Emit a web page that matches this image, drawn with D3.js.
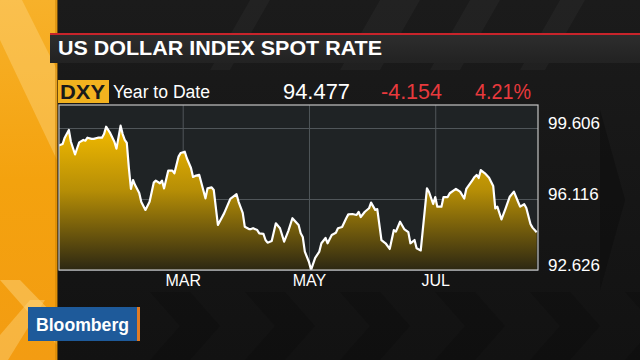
<!DOCTYPE html>
<html><head><meta charset="utf-8">
<script src="https://cdn.jsdelivr.net/npm/d3@7"></script>
<style>html,body{margin:0;padding:0;background:#151515;overflow:hidden}svg{display:block}</style>
</head><body><svg id="c" width="640" height="360"></svg>
<script>
// ---- data ----
const dateLabels = ["2016-01-01","2016-01-03","2016-01-04","2016-01-06","2016-01-07","2016-01-09","2016-01-10","2016-01-11","2016-01-13","2016-01-14","2016-01-15","2016-01-17","2016-01-18","2016-01-20","2016-01-22","2016-01-23","2016-01-24","2016-01-25","2016-01-26","2016-01-28","2016-01-29","2016-01-31",
"2016-02-01","2016-02-02","2016-02-03","2016-02-04","2016-02-05","2016-02-06","2016-02-07","2016-02-09","2016-02-10","2016-02-12","2016-02-14","2016-02-16","2016-02-17","2016-02-19","2016-02-20","2016-02-21","2016-02-23","2016-02-25","2016-02-26","2016-02-28","2016-02-29",
"2016-03-02","2016-03-03","2016-03-05","2016-03-06","2016-03-07","2016-03-09","2016-03-12","2016-03-13","2016-03-15","2016-03-16","2016-03-18","2016-03-21","2016-03-24","2016-03-27","2016-03-28","2016-03-30","2016-03-31",
"2016-04-02","2016-04-03","2016-04-04","2016-04-06","2016-04-07","2016-04-09","2016-04-10","2016-04-11","2016-04-13","2016-04-15","2016-04-17","2016-04-19","2016-04-21","2016-04-23","2016-04-26","2016-04-27","2016-04-28","2016-04-29",
"2016-05-01","2016-05-02","2016-05-04","2016-05-06","2016-05-07","2016-05-09","2016-05-10","2016-05-12","2016-05-14","2016-05-15","2016-05-17","2016-05-19","2016-05-20","2016-05-22","2016-05-24","2016-05-25","2016-05-26","2016-05-28","2016-05-30","2016-05-31",
"2016-06-02","2016-06-03","2016-06-05","2016-06-07","2016-06-09","2016-06-11","2016-06-12","2016-06-14","2016-06-16","2016-06-18","2016-06-19","2016-06-21","2016-06-22","2016-06-24","2016-06-27","2016-06-28","2016-06-30",
"2016-07-01","2016-07-02","2016-07-04","2016-07-05","2016-07-07","2016-07-08","2016-07-11","2016-07-13","2016-07-15","2016-07-16","2016-07-19","2016-07-20","2016-07-21","2016-07-22","2016-07-23","2016-07-25","2016-07-27","2016-07-29","2016-07-30","2016-07-31",
"2016-08-02","2016-08-04","2016-08-06","2016-08-08","2016-08-10","2016-08-11","2016-08-13","2016-08-14","2016-08-16","2016-08-17","2016-08-19"];
const dxyValues = [98.74,98.82,99.13,99.51,98.93,98.31,98.61,98.90,99.02,98.98,99.13,99.07,99.07,99.13,99.13,99.31,99.67,99.51,99.35,98.93,98.59,99.72,
99.31,99.02,98.87,97.63,96.61,97.05,96.80,96.41,95.97,95.58,95.98,96.92,97.02,96.89,97.02,96.64,97.51,97.51,97.38,98.20,98.38,
98.44,98.12,97.64,97.20,97.25,97.30,96.15,96.64,96.69,96.56,94.84,95.41,96.12,96.35,95.98,95.43,94.75,
94.64,94.64,94.68,94.59,94.43,94.40,94.10,93.97,94.05,94.92,94.68,94.02,94.54,95.17,94.84,94.43,94.25,93.53,
93.02,92.63,93.22,93.53,93.94,94.20,93.94,94.35,94.46,94.68,94.74,95.17,95.36,95.38,95.33,95.48,95.23,95.49,95.66,95.94,
95.58,95.62,94.10,93.94,93.66,94.59,94.51,95.00,94.64,94.49,93.94,94.10,93.69,93.59,96.64,96.46,95.87,
96.21,95.74,95.74,96.21,96.21,96.40,96.61,96.48,96.14,96.61,97.05,97.20,97.30,97.15,97.54,97.38,97.16,96.76,95.66,95.74,
95.11,95.66,96.23,96.48,95.98,95.74,95.86,95.67,94.89,94.71,94.48];
const yTickValues = [92.626, 96.116, 99.606];
const xTickDates = ["2016-03-01","2016-05-01","2016-07-01"];
const xTickLabels = ["MAR","MAY","JUL"];
const titleText = "US DOLLAR INDEX SPOT RATE";
const tickerText = "DXY";
const periodText = "Year to Date";
const lastText = "94.477", changeText = "-4.154", pctText = "4.21%";

// ---- drawing ----
const svg = d3.select("#c");
const defs = svg.append("defs");
const pd = s => { const [y,m,d] = s.split("-").map(Number); return new Date(Date.UTC(y,m-1,d)); };
const data = dateLabels.map((d,i)=>({date:pd(d), value:dxyValues[i]}));

// background
const bg = defs.append("linearGradient").attr("id","bg").attr("x1",0).attr("y1",0).attr("x2",0).attr("y2",1);
bg.append("stop").attr("offset",0).attr("stop-color","#1b1b1b");
bg.append("stop").attr("offset",1).attr("stop-color","#121212");
svg.append("rect").attr("width",640).attr("height",360).attr("fill","url(#bg)");
[[380,40],[470,30],[560,25],[250,20]].forEach(([x,w])=>{
  svg.append("path").attr("d",`M${x},0 L${x+w},0 L${x+w-40},70 L${x-40},70 Z`).attr("fill","#ffffff").attr("opacity",0.03);
});
for(let k=0;k<9;k++){
  const x0 = 150 + k*95;
  svg.append("path").attr("d",`M${x0},292 L${x0+40},292 L${x0+70},326 L${x0+40},360 L${x0},360 L${x0+30},326 Z`)
    .attr("fill","#000").attr("opacity",0.14);
}
svg.append("path").attr("d","M600,110 L625,200 L600,290 Z").attr("fill","#0c0c0c").attr("opacity",0.5);

// left orange strip
const og = defs.append("linearGradient").attr("id","og").attr("x1",0).attr("y1",0).attr("x2",0).attr("y2",1);
og.append("stop").attr("offset",0).attr("stop-color","#f7b12a");
og.append("stop").attr("offset",0.5).attr("stop-color","#f4a20e");
og.append("stop").attr("offset",1).attr("stop-color","#f39c12");
svg.append("rect").attr("x",0).attr("y",0).attr("width",57).attr("height",360).attr("fill","url(#og)");
svg.append("path").attr("d","M0,0 L22,0 L57,70 L57,160 L0,40 Z").attr("fill","#fcd27a").attr("opacity",0.45);
svg.append("path").attr("d","M0,280 L20,280 L57,318 L57,345 Z").attr("fill","#fcd27a").attr("opacity",0.5);
svg.append("path").attr("d","M0,360 L0,335 L30,300 L45,300 L8,360 Z").attr("fill","#fcd27a").attr("opacity",0.45);
svg.append("rect").attr("x",55).attr("y",0).attr("width",3).attr("height",360).attr("fill","#c98000").attr("opacity",0.5);

// title bar
const tg = defs.append("linearGradient").attr("id","tg").attr("x1",0).attr("y1",0).attr("x2",0).attr("y2",1);
tg.append("stop").attr("offset",0).attr("stop-color","#2e2e2e");
tg.append("stop").attr("offset",1).attr("stop-color","#222222");
svg.append("rect").attr("x",50).attr("y",33).attr("width",590).attr("height",30).attr("fill","url(#tg)");
svg.append("rect").attr("x",50).attr("y",33).attr("width",590).attr("height",2).attr("fill","#c8242b");
const hf = "Liberation Sans, Arial, sans-serif";
svg.append("text").attr("x",58).attr("y",55).text(titleText)
  .attr("font-family",hf).attr("font-weight","bold").attr("font-size",21)
  .attr("fill","#ffffff").attr("textLength",324).attr("lengthAdjust","spacingAndGlyphs");

// header row
svg.append("rect").attr("x",58).attr("y",80).attr("width",51).attr("height",23).attr("fill","#f2b21f");
svg.append("text").attr("x",60).attr("y",99).text(tickerText).attr("font-family",hf).attr("font-weight","bold")
  .attr("font-size",21).attr("fill","#1a1a1a").attr("textLength",45).attr("lengthAdjust","spacingAndGlyphs");
svg.append("text").attr("x",113).attr("y",98).text(periodText).attr("font-family",hf).attr("font-size",18)
  .attr("fill","#ffffff").attr("textLength",97).attr("lengthAdjust","spacingAndGlyphs");
svg.append("text").attr("x",283).attr("y",99).text(lastText).attr("font-family",hf).attr("font-size",22)
  .attr("fill","#ffffff").attr("textLength",67).attr("lengthAdjust","spacingAndGlyphs");
svg.append("text").attr("x",381).attr("y",99).text(changeText).attr("font-family",hf).attr("font-size",22)
  .attr("fill","#e8393d").attr("textLength",61).attr("lengthAdjust","spacingAndGlyphs");
svg.append("text").attr("x",475).attr("y",99).text(pctText).attr("font-family",hf).attr("font-size",22)
  .attr("fill","#e8393d").attr("textLength",56).attr("lengthAdjust","spacingAndGlyphs");

// plot
const L=59, R=538, T=105, B=270;
const x = d3.scaleUtc().domain([pd("2016-01-01"), pd("2016-08-20")]).range([58.5, 538.74]);
const y = d3.scaleLinear().domain([92.626, 100.737]).range([B, T]);
svg.append("rect").attr("x",L).attr("y",T).attr("width",R-L).attr("height",B-T).attr("fill","#1f2325");

const gAx = svg.append("g").attr("transform",`translate(0,${B})`)
  .call(d3.axisBottom(x).tickValues(xTickDates.map(pd)).tickSize(-(B-T)).tickPadding(8)
    .tickFormat((d,i)=>xTickLabels[i]));
gAx.select(".domain").remove();
gAx.selectAll("line").attr("stroke","#50565a").attr("stroke-width",1);
gAx.selectAll("text").attr("font-family",hf).attr("font-size",16).attr("fill","#ffffff").attr("dy","0.9em").attr("y",2);

const gAy = svg.append("g").attr("transform",`translate(${R},0)`)
  .call(d3.axisRight(y).tickValues(yTickValues).tickSize(-(R-L)).tickPadding(10).tickFormat(d3.format(".3f")));
gAy.select(".domain").remove();
gAy.selectAll("line").attr("stroke","#50565a").attr("stroke-width",1);
gAy.selectAll("text").attr("font-family",hf).attr("font-size",17).attr("fill","#ffffff").attr("dy","0.05em");

// area
const ag = defs.append("linearGradient").attr("id","ag").attr("gradientUnits","userSpaceOnUse")
  .attr("x1",0).attr("y1",125).attr("x2",0).attr("y2",270);
ag.append("stop").attr("offset",0).attr("stop-color","#f4bb00");
ag.append("stop").attr("offset",0.45).attr("stop-color","#b68e06");
ag.append("stop").attr("offset",1).attr("stop-color","#2c2712");
const clip = defs.append("clipPath").attr("id","pc");
clip.append("rect").attr("x",L).attr("y",T).attr("width",R-L).attr("height",B-T);
const gp = svg.append("g").attr("clip-path","url(#pc)");
gp.append("path").datum(data).attr("fill","url(#ag)")
  .attr("d", d3.area().x(d=>x(d.date)).y0(B).y1(d=>y(d.value)));
gp.append("path").datum(data).attr("fill","none").attr("stroke","#ffffff").attr("stroke-width",2.2)
  .attr("stroke-linejoin","round")
  .attr("d", d3.line().x(d=>x(d.date)).y(d=>y(d.value)));
svg.append("rect").attr("x",L).attr("y",T).attr("width",R-L).attr("height",B-T)
  .attr("fill","none").attr("stroke","#c4c4c4").attr("stroke-width",1.2);

// Bloomberg logo
svg.append("rect").attr("x",28).attr("y",307).attr("width",110).attr("height",34).attr("fill","#1e5a9a");
svg.append("rect").attr("x",137).attr("y",307).attr("width",3).attr("height",34).attr("fill","#e07b24");
svg.append("text").attr("x",36).attr("y",331).text("Bloomberg").attr("font-family",hf).attr("font-weight","bold")
  .attr("font-size",19).attr("fill","#ffffff").attr("textLength",93).attr("lengthAdjust","spacingAndGlyphs");
</script></body></html>
